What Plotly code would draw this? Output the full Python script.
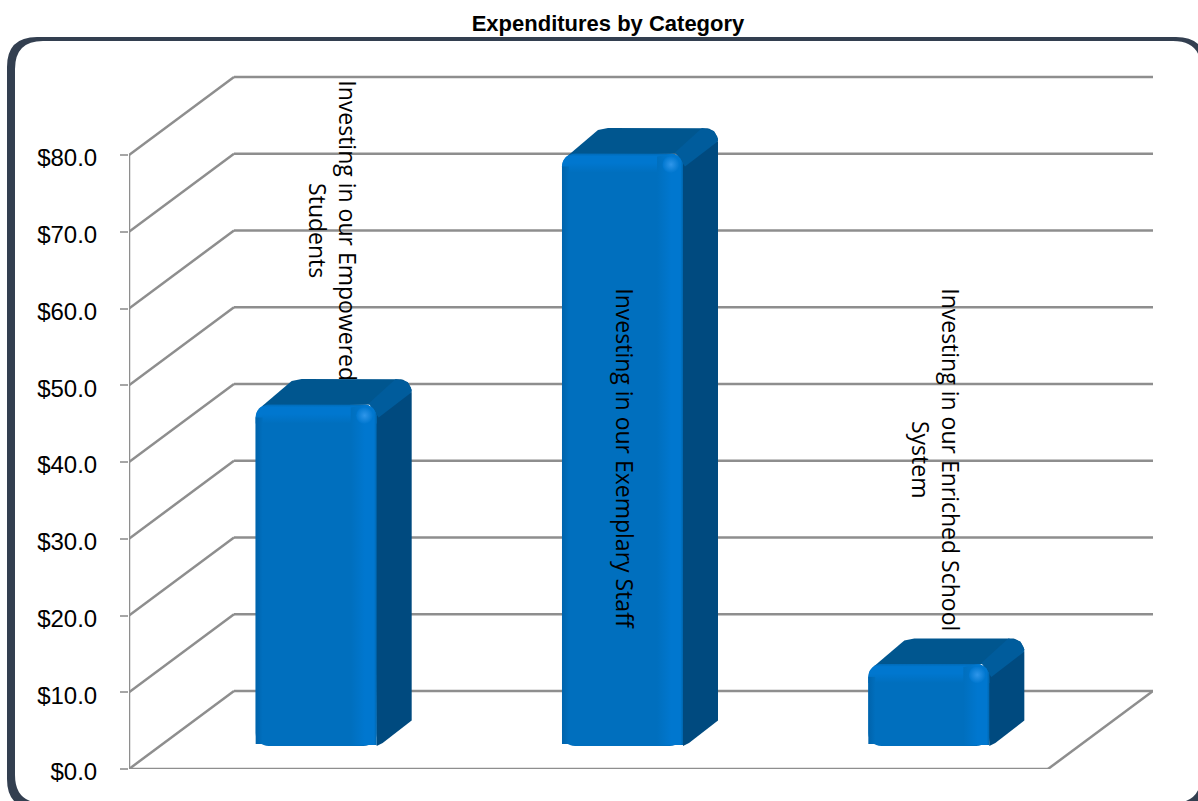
import numpy as np
import plotly.graph_objects as go

# Chart content
categories = [
    "Investing in our Empowered<br>Students",
    "Investing in our Exemplary Staff",
    "Investing in our Enriched School<br>System",
]
expenditures = [44.5, 77.2, 10.7]
tick_values = [0, 10, 20, 30, 40, 50, 60, 70, 80]
tick_labels = [f"${v:.1f}" for v in tick_values]
chart_title = "Expenditures by Category"

# Page and plot geometry
PAGE_W, PAGE_H = 1198, 801
LEFT, RIGHT, TOP, BOTTOM = 129, 1153, 75, 769
PX_PER_CAT = 306.33
PX_PER_VAL = (BOTTOM - 155.0) / 80
X_MAX = (RIGHT - LEFT) / PX_PER_CAT
Y_MAX = (BOTTOM - TOP) / PX_PER_VAL

# Oblique projection of the chart box and bars
WALL_DX = 105 / PX_PER_CAT
WALL_DY = 78 / PX_PER_VAL
N_CATS = len(categories)
BAR_WIDTH = 121 / PX_PER_CAT
BAR_BASE = 23 / PX_PER_VAL
BAR_SHIFT = 31 / PX_PER_CAT
DEPTH_PX_X, DEPTH_PX_Y = 35, 25.5
RADIUS = 13

GRID = "#8E8E8E"
FRONT = "#006FBE"
FRONT_LIGHT = "#0077CF"
FRONT_DARK = "#0063AB"
TOP_FACE = "#00568F"
SIDE_FACE = "#004A7F"
BEVEL = "#005C9C"
FRAME = "#333F50"
TEXT_FONT = "Open Sans"
AXIS_FONT = "Liberation Sans"


def dx(px):
    return px / PX_PER_CAT


def dy(px):
    return px / PX_PER_VAL


def arc(cx, cy, start, stop, r=RADIUS, n=10):
    """Corner arc around (cx, cy): centre in data units, radius in pixels."""
    a = np.radians(np.linspace(start, stop, n))
    return list(cx + dx(r) * np.cos(a)), list(cy + dy(r) * np.sin(a))


def poly(xs, ys, color=None, gradient=None):
    """Closed, borderless filled region on the main axes."""
    kw = {"fillgradient": gradient} if gradient else {"fillcolor": color}
    return go.Scatter(
        x=xs, y=ys, mode="lines", fill="toself", line=dict(width=0),
        hoverinfo="skip", showlegend=False, **kw,
    )


def ramp(kind, stops):
    return dict(type=kind, colorscale=stops)


fig = go.Figure()

# Front faces
bar_x = [i + 0.5 + BAR_SHIFT + dx(3) for i in range(N_CATS)]
fig.add_trace(go.Bar(
    x=bar_x, y=expenditures, base=[BAR_BASE] * N_CATS, width=BAR_WIDTH,
    marker=dict(color=FRONT, line=dict(width=0)),
    hoverinfo="skip", showlegend=False,
))

for cx, value in zip(bar_x, expenditures):
    L, R = cx - BAR_WIDTH / 2, cx + BAR_WIDTH / 2
    T, B = value + BAR_BASE, BAR_BASE
    ddx, ddy = dx(DEPTH_PX_X), dy(DEPTH_PX_Y)

    # Top face
    ax, ay = arc(R + ddx - dx(RADIUS), T + ddy - dy(RADIUS), 90, 0)
    xs = [L + dx(6), L + dx(36), L + dx(46)] + ax + [R, L + dx(6)]
    ys = [T - dy(2), T + ddy - dy(2), T + ddy] + ay + [T, T - dy(2)]
    fig.add_trace(poly(xs, ys, TOP_FACE))

    # Side face
    xs = [R, R + dx(6), R + ddx, R + ddx, R - dx(3), R]
    ys = [B, B + dy(3), B + ddy, T + ddy - dy(RADIUS), T - dy(3), B]
    fig.add_trace(poly(xs, ys, SIDE_FACE))

    # Lighter bevel running along the top right edge
    xs = [R - dx(8), R + ddx - dx(16), R + ddx - dx(4), R + ddx, R + ddx - dx(1), R + dx(2)]
    ys = [T + dy(1), T + ddy, T + ddy - dy(3), T + ddy - dy(11), T + ddy - dy(14), T - dy(13)]
    fig.add_trace(poly(xs, ys, BEVEL))

    # Shaded strips on the front face
    ax, ay = arc(L + dx(RADIUS), T - dy(RADIUS), 180, 90)
    bx, by = arc(R - dx(RADIUS), T - dy(RADIUS), 90, 0)
    xs = ax + bx + [R, L, L]
    ys = ay + by + [T - dy(19), T - dy(19), ay[0]]
    fig.add_trace(poly(xs, ys, gradient=ramp("vertical", [
        [0, FRONT], [0.5, FRONT_LIGHT], [0.85, FRONT_LIGHT], [1, "#006AB6"],
    ])))

    bx, by = arc(R - dx(RADIUS), T - dy(RADIUS), 90, 0)
    xs = [R - dx(26), R - dx(13)] + bx + [R, R - dx(26), R - dx(26)]
    ys = [T - dy(3), T] + by + [B + dy(1), B + dy(1), T - dy(3)]
    fig.add_trace(poly(xs, ys, gradient=ramp("horizontal", [
        [0, FRONT], [0.55, FRONT_LIGHT], [0.9, FRONT_LIGHT], [1, "#0066AE"],
    ])))

    xs = [L, L + dx(7), L + dx(7), L]
    ys = [B + dy(2), B + dy(2), T - dy(13), T - dy(13)]
    fig.add_trace(poly(xs, ys, gradient=ramp("horizontal", [
        [0, FRONT_DARK], [1, FRONT],
    ])))

# Highlight where the front bevels meet: bright centre fading to the bevel colour
fig.add_trace(go.Scatter(
    x=[cx + BAR_WIDTH / 2 - dx(12) for cx in bar_x],
    y=[v + BAR_BASE - dy(11) for v in expenditures],
    mode="markers",
    marker=dict(
        size=17, color=FRONT_LIGHT, line=dict(width=0),
        gradient=dict(type="radial", color="#2F96EA"),
    ),
    hoverinfo="skip", showlegend=False,
))

# Chart box: wall grid lines, floor and vertical axis line, behind the bars
line = dict(color=GRID, width=2.5)
shapes = []
for v in tick_values:
    shapes.append(dict(type="line", xref="x", yref="y", layer="below", x0=0, y0=v,
                       x1=WALL_DX, y1=v + WALL_DY, line=line))
    shapes.append(dict(type="line", xref="x", yref="y", layer="below", x0=WALL_DX, y0=v + WALL_DY,
                       x1=X_MAX, y1=v + WALL_DY, line=line))
shapes.append(dict(type="line", xref="x", yref="y", layer="below", x0=0, y0=0,
                   x1=N_CATS, y1=0, line=line))
shapes.append(dict(type="line", xref="x", yref="y", layer="below", x0=N_CATS, y0=0,
                   x1=X_MAX, y1=WALL_DY, line=line))
shapes.append(dict(type="line", xref="x", yref="y", layer="below", x0=0, y0=0,
                   x1=0, y1=tick_values[-1], line=line))


# Rounded outer frame, with page pixels converted to paper coordinates
def fx(p):
    return (p - LEFT) / (RIGHT - LEFT)


def fy(p):
    return (BOTTOM - p) / (BOTTOM - TOP)


def rounded(l, t, r, b, c):
    return (
        f"M {fx(l + c)} {fy(t)} L {fx(r - c)} {fy(t)} Q {fx(r)} {fy(t)} {fx(r)} {fy(t + c)} "
        f"L {fx(r)} {fy(b - c)} Q {fx(r)} {fy(b)} {fx(r - c)} {fy(b)} "
        f"L {fx(l + c)} {fy(b)} Q {fx(l)} {fy(b)} {fx(l)} {fy(b - c)} "
        f"L {fx(l)} {fy(t + c)} Q {fx(l)} {fy(t)} {fx(l + c)} {fy(t)} Z"
    )


shapes.append(dict(
    type="path", xref="paper", yref="paper", layer="below",
    path=rounded(7, 37, 1206, 809, 30) + " " + rounded(15, 41, 1201, 803, 28),
    fillcolor=FRAME, line=dict(width=0),
))

# Category names, turned to read downwards
label_x = [0.665, 1.618, 2.636]
label_y = [70.1, 40.4, 40.3]
annotations = [
    dict(x=x, y=y, xref="x", yref="y", text=t, textangle=90, showarrow=False,
         align="center", font=dict(family=TEXT_FONT, size=23, color="black"))
    for x, y, t in zip(label_x, label_y, categories)
]

fig.update_layout(
    width=PAGE_W, height=PAGE_H, autosize=False,
    margin=dict(l=LEFT, r=PAGE_W - RIGHT, t=TOP, b=PAGE_H - BOTTOM, pad=0),
    paper_bgcolor="white", plot_bgcolor="rgba(0,0,0,0)",
    title=dict(
        text=f"<b>{chart_title}</b>", x=608 / PAGE_W, xanchor="center",
        y=1 - 23 / PAGE_H, yanchor="middle",
        font=dict(family=AXIS_FONT, size=22, color="black"),
    ),
    xaxis=dict(range=[0, X_MAX], visible=False, fixedrange=True),
    yaxis=dict(
        range=[0, Y_MAX], tickmode="array", tickvals=tick_values, ticktext=tick_labels,
        ticks="outside", ticklen=8, tickwidth=1.5, tickcolor="#A6A6A6",
        showgrid=False, zeroline=False, showline=False, fixedrange=True,
        ticklabelstandoff=18, ticklabelshift=3,
        tickfont=dict(family=AXIS_FONT, size=24, color="black"),
    ),
    shapes=shapes, annotations=annotations, barmode="overlay", barcornerradius=RADIUS,
    showlegend=False, hovermode=False,
)

fig.write_html("out.html", config={"displayModeBar": False})
